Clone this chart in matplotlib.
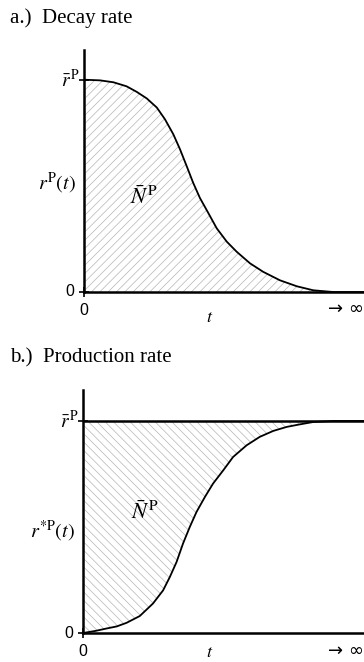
import matplotlib
matplotlib.use("Agg")
from matplotlib import pyplot as plt

# values (t scaled 0..1 along the axis, rate scaled to r-bar = 1)
t_decay = [0.0, 0.057, 0.105, 0.152, 0.188, 0.224, 0.260, 0.289, 0.319, 0.343, 0.367, 0.390,
           0.414, 0.444, 0.474, 0.510, 0.545, 0.593, 0.640, 0.700, 0.760, 0.819, 0.890, 1.0]
r_decay = [1.0, 0.997, 0.988, 0.969, 0.943, 0.912, 0.869, 0.814, 0.743, 0.672, 0.592, 0.514,
           0.443, 0.372, 0.300, 0.237, 0.190, 0.135, 0.095, 0.055, 0.027, 0.008, 0.0, 0.0]

t_prod = [0.0, 0.045, 0.083, 0.120, 0.155, 0.202, 0.249, 0.285, 0.309, 0.333, 0.356, 0.380, 0.404,
          0.434, 0.463, 0.499, 0.534, 0.582, 0.629, 0.677, 0.725, 0.772, 0.819, 0.891, 1.0]
r_prod = [0.0, 0.010, 0.021, 0.031, 0.048, 0.080, 0.139, 0.201, 0.264, 0.335, 0.422, 0.500, 0.571,
          0.642, 0.705, 0.767, 0.830, 0.885, 0.925, 0.953, 0.972, 0.984, 0.995, 1.0, 1.0]

r_bar = 1.0

titles = ["a.)  Decay rate", "b.)  Production rate"]
ylabels = [r"$r^{\mathrm{P}}(t)$", r"$r^{*\mathrm{P}}(t)$"]
area_label = r"$\bar{N}^{\,\mathrm{P}}$"
rbar_label = r"$\bar{r}^{\,\mathrm{P}}$"

plt.rcParams["mathtext.fontset"] = "stix"
plt.rcParams["hatch.linewidth"] = 0.5

W, H = 364, 662
fig = plt.figure(figsize=(W / 100, H / 100), dpi=100)


def px_box(left, top, right, bottom):
    return [left / W, 1 - bottom / H, (right - left) / W, (bottom - top) / H]


def setup_axis(ax, ytop):
    ax.set_xlim(0, 1)
    ax.set_ylim(0, ytop)
    for s in ["top", "right"]:
        ax.spines[s].set_visible(False)
    for s in ["left", "bottom"]:
        ax.spines[s].set_linewidth(1.8)
    ax.set_xticks([0])
    ax.set_yticks([0, r_bar])
    ax.tick_params(direction="inout", length=7, width=1.2, labelsize=0, labelcolor="none")
    ax.patch.set_alpha(0)


def add_labels(ax, ylab, ylab_y, area_xy, t_off):
    xt = ax.get_xaxis_transform()
    yt = ax.get_yaxis_transform()
    sans = dict(family="Liberation Sans", fontsize=11.5)
    ax.text(-0.035, 0, "0", ha="right", va="center", transform=yt, **sans)
    ax.text(0, -0.045, "0", ha="center", va="top", transform=xt, **sans)
    ax.text(1.0, -0.035, "→ ∞", ha="right", va="top", transform=xt,
            family="DejaVu Sans", fontsize=13)
    ax.text(0.45, t_off, "$t$", ha="center", va="top", transform=xt, fontsize=13)
    ax.text(-0.015, r_bar, rbar_label, ha="right", va="center", transform=yt, fontsize=14)
    ax.text(-0.03, ylab_y, ylab, ha="right", va="center", transform=yt, fontsize=14.5)
    ax.text(area_xy[0], area_xy[1], area_label, ha="center", va="center", fontsize=16)


# a.) decay rate
ax1 = fig.add_axes(px_box(84, 50, 364, 292))
setup_axis(ax1, 1.14)
ax1.fill_between(t_decay, 0, r_decay, facecolor="none", edgecolor="#b5b5b5", hatch="////", linewidth=0)
ax1.plot(t_decay, r_decay, color="black", lw=1.3, solid_joinstyle="round")
add_labels(ax1, ylabels[0], 0.51, (0.215, 0.45), -0.065)
fig.text(10 / W, 1 - 18 / H, titles[0], family="Liberation Serif", fontsize=15, va="center")

# b.) production rate
ax2 = fig.add_axes(px_box(83, 390, 364, 633))
setup_axis(ax2, 1.146)
ax2.fill_between(t_prod, r_prod, r_bar, facecolor="none", edgecolor="#b5b5b5", hatch="\\\\\\\\", linewidth=0)
ax2.axhline(r_bar, color="black", lw=1.8)
ax2.plot(t_prod, r_prod, color="black", lw=1.3, solid_joinstyle="round")
add_labels(ax2, ylabels[1], 0.48, (0.22, 0.575), -0.04)
fig.text(10 / W, 1 - 358 / H, titles[1], family="Liberation Serif", fontsize=15, va="center")

fig.savefig("out.png", dpi=100)
